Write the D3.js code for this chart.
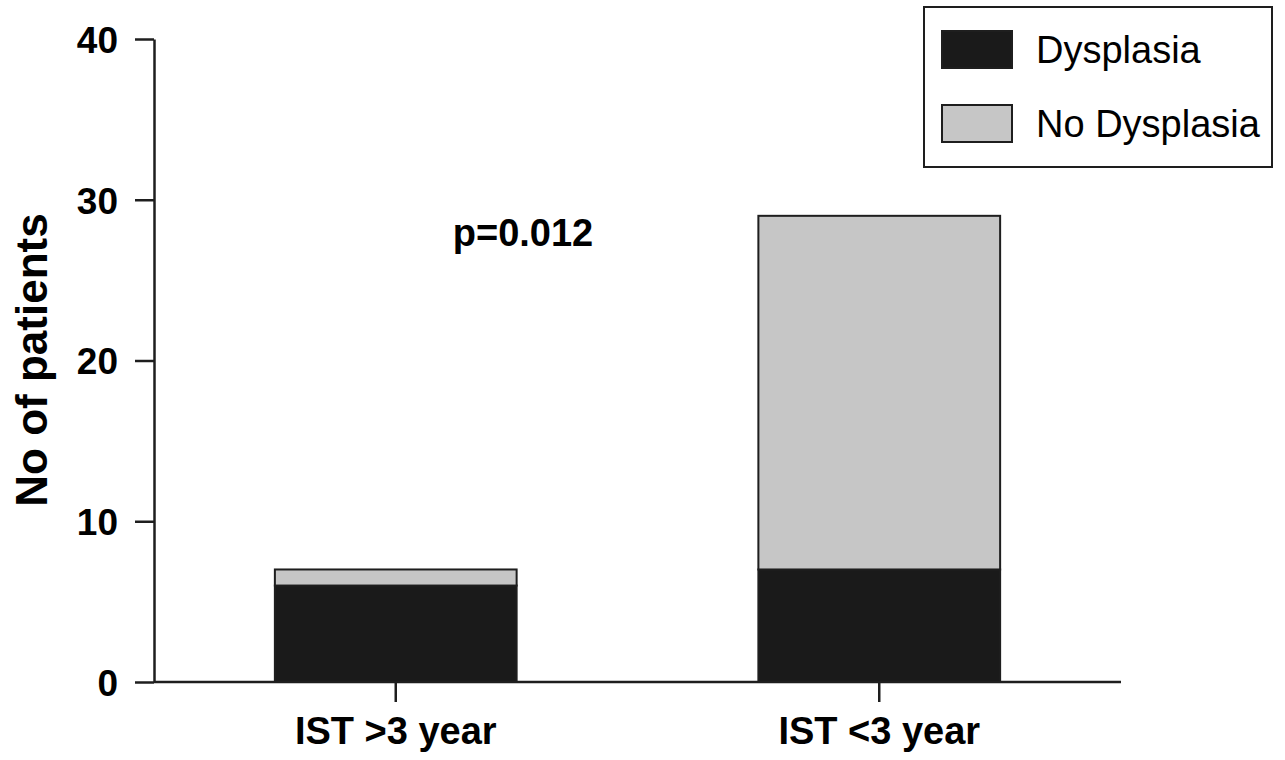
<!DOCTYPE html>
<html>
<head>
<meta charset="utf-8">
<script src="https://cdn.jsdelivr.net/npm/d3@7"></script>
<style>
  html, body { margin: 0; padding: 0; background: #fff; }
  svg { display: block; font-family: "Liberation Sans", Arial, Helvetica, sans-serif; }
</style>
</head>
<body>
<svg id="chart" width="1285" height="760"></svg>
<script>
// ---- data ----
const categories = ["IST >3 year", "IST <3 year"];
const seriesNames = ["Dysplasia", "No Dysplasia"];
const dysplasia = [6, 7];
const noDysplasia = [1, 22];
const yTicks = [0, 10, 20, 30, 40];
const pValueLabel = "p=0.012";
const yAxisTitle = "No of patients";

// ---- layout ----
const W = 1285, H = 760;
const axisLeft = 154, axisRight = 1121, axisTop = 39, axisBottom = 682;
const colors = { "Dysplasia": "#1a1a1a", "No Dysplasia": "#c6c6c6" };
const ink = "#1e1e1e";

const svg = d3.select("#chart");

const x = d3.scaleBand().domain(categories).range([axisLeft, axisRight])
  .paddingInner(0.5).paddingOuter(0.25);
const y = d3.scaleLinear().domain([0, 40]).range([axisBottom, axisTop]);

const table = categories.map((c, i) => ({ cat: c, "Dysplasia": dysplasia[i], "No Dysplasia": noDysplasia[i] }));
const stacked = d3.stack().keys(seriesNames)(table);

// bars
const g = svg.append("g");
stacked.forEach(layer => {
  g.selectAll(null).data(layer).enter().append("rect")
    .attr("x", d => x(d.data.cat))
    .attr("y", d => y(d[1]))
    .attr("width", x.bandwidth())
    .attr("height", d => y(d[0]) - y(d[1]))
    .attr("fill", colors[layer.key])
    .attr("stroke", ink)
    .attr("stroke-width", 2);
});

// y axis
const yAxis = svg.append("g").attr("transform", `translate(${axisLeft},0)`)
  .call(d3.axisLeft(y).tickValues(yTicks).tickFormat(d3.format("d")).tickSize(19).tickPadding(17).tickSizeOuter(0));
// x axis
const xAxis = svg.append("g").attr("transform", `translate(0,${axisBottom})`)
  .call(d3.axisBottom(x).tickSize(20).tickPadding(15).tickSizeOuter(0));

[yAxis, xAxis].forEach(ax => {
  ax.select(".domain").attr("stroke", ink).attr("stroke-width", 2.5);
  ax.selectAll(".tick line").attr("stroke", ink).attr("stroke-width", 2.5);
  ax.selectAll(".tick text").attr("fill", "#000").attr("font-weight", "bold")
    .attr("font-family", "Liberation Sans, Arial, sans-serif");
});
// extend x axis line to start at y axis
xAxis.select(".domain").attr("d", `M${axisLeft},0H${axisRight}`);
yAxis.selectAll(".tick text").attr("font-size", 37).attr("dy", "0.36em");
xAxis.selectAll(".tick text").attr("font-size", 38).attr("dy", "0.71em");

// y axis title
svg.append("text")
  .attr("transform", `translate(47,360) rotate(-90)`)
  .attr("text-anchor", "middle")
  .attr("font-size", 44).attr("font-weight", "bold").attr("fill", "#000")
  .text(yAxisTitle);

// p value
svg.append("text")
  .attr("x", 523).attr("y", 246)
  .attr("text-anchor", "middle")
  .attr("font-size", 38).attr("font-weight", "bold").attr("fill", "#000")
  .text(pValueLabel);

// legend
const legend = svg.append("g");
legend.append("rect").attr("x", 924).attr("y", 7).attr("width", 348).attr("height", 160)
  .attr("fill", "#fff").attr("stroke", ink).attr("stroke-width", 2);
seriesNames.forEach((name, i) => {
  const ly = 31 + i * 74;
  legend.append("rect").attr("x", 942).attr("y", ly).attr("width", 70).attr("height", 37)
    .attr("fill", colors[name]).attr("stroke", ink).attr("stroke-width", 2);
  legend.append("text").attr("x", 1036).attr("y", ly + 32)
    .attr("font-size", 38).attr("fill", "#000").text(name);
});
</script>
</body>
</html>
